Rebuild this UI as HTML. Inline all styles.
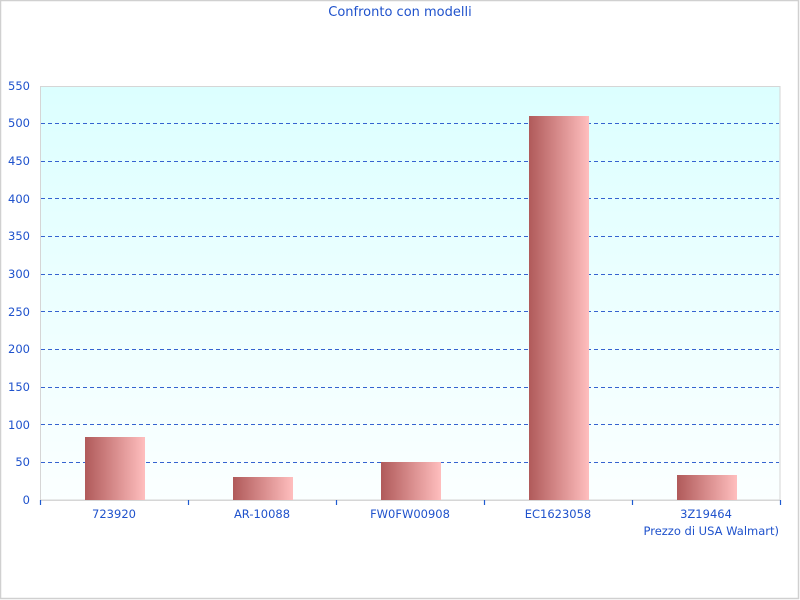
<!DOCTYPE html>
<html><head><meta charset="utf-8"><style>
html,body{margin:0;padding:0;background:#fff;}
svg{display:block;}
text{font-family:"DejaVu Sans","Liberation Sans",sans-serif;fill:#1f52cc;}
</style></head><body>
<svg width="800" height="600" viewBox="0 0 800 600" xmlns="http://www.w3.org/2000/svg">
<defs>
<linearGradient id="bg" x1="0" y1="0" x2="0" y2="1">
<stop offset="0" stop-color="#dcffff"/>
<stop offset="1" stop-color="#fbffff"/>
</linearGradient>
<linearGradient id="bar" x1="0" y1="0" x2="1" y2="0">
<stop offset="0" stop-color="#b05a5a"/>
<stop offset="1" stop-color="#ffbebe"/>
</linearGradient>
</defs>
<rect x="0.5" y="0.5" width="798" height="598" fill="#fff" stroke="#d0d0d0" stroke-width="1.5"/>
<text x="400" y="16" font-size="13" text-anchor="middle">Confronto con modelli</text>
<rect x="40.5" y="86.5" width="739.5" height="413.5" fill="url(#bg)" stroke="#d6d6d6" stroke-width="1"/>
<g stroke="#3563d0" stroke-width="1" stroke-dasharray="4,3">
<line x1="41" x2="779" y1="462.5" y2="462.5"/>
<line x1="41" x2="779" y1="424.5" y2="424.5"/>
<line x1="41" x2="779" y1="387.5" y2="387.5"/>
<line x1="41" x2="779" y1="349.5" y2="349.5"/>
<line x1="41" x2="779" y1="311.5" y2="311.5"/>
<line x1="41" x2="779" y1="274.5" y2="274.5"/>
<line x1="41" x2="779" y1="236.5" y2="236.5"/>
<line x1="41" x2="779" y1="198.5" y2="198.5"/>
<line x1="41" x2="779" y1="161.5" y2="161.5"/>
<line x1="41" x2="779" y1="123.5" y2="123.5"/>
</g>
<g fill="url(#bar)">
<rect x="85" y="437" width="60" height="63"/>
<rect x="233" y="477" width="60" height="23"/>
<rect x="381" y="462" width="60" height="38"/>
<rect x="529" y="116" width="60" height="384"/>
<rect x="677" y="475" width="60" height="25"/>
</g>
<line x1="40" x2="780" y1="500.5" y2="500.5" stroke="#d6d6d6" stroke-width="1"/>
<g stroke="#1f5bd0" stroke-width="1.2">
<line x1="40.5" x2="40.5" y1="500" y2="505"/>
<line x1="188.5" x2="188.5" y1="500" y2="505"/>
<line x1="336.5" x2="336.5" y1="500" y2="505"/>
<line x1="484.5" x2="484.5" y1="500" y2="505"/>
<line x1="632.5" x2="632.5" y1="500" y2="505"/>
<line x1="780.5" x2="780.5" y1="500" y2="505"/>
</g>
<g font-size="11.5" text-anchor="end">
<text x="30" y="504">0</text>
<text x="30" y="466">50</text>
<text x="30" y="429">100</text>
<text x="30" y="391">150</text>
<text x="30" y="353">200</text>
<text x="30" y="316">250</text>
<text x="30" y="278">300</text>
<text x="30" y="240">350</text>
<text x="30" y="203">400</text>
<text x="30" y="165">450</text>
<text x="30" y="127">500</text>
<text x="30" y="90">550</text>
</g>
<g font-size="11.5" text-anchor="middle">
<text x="114" y="518">723920</text>
<text x="262" y="518">AR-10088</text>
<text x="410" y="518">FW0FW00908</text>
<text x="558" y="518">EC1623058</text>
<text x="706" y="518">3Z19464</text>
</g>
<text x="779" y="535" font-size="11.5" text-anchor="end">Prezzo di USA Walmart)</text>
</svg>
</body></html>
